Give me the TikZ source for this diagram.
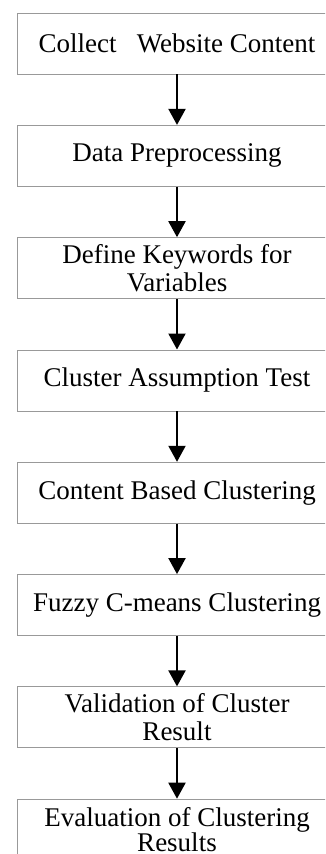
\documentclass[tikz,border=0pt]{standalone}
\usepackage{fontspec}
\setmainfont{Liberation Serif}
\usetikzlibrary{arrows.meta}
\usetikzlibrary{positioning}
\tikzset{
    stepnode/.style={rectangle,draw=gray!80,line width=0.8pt,minimum width=320pt,minimum height=61pt,inner sep=0pt,align=center,font=\fontsize{27}{28.5}\selectfont},
    steparrow/.style={-{Triangle[length=16pt,width=17pt]}, line width=2pt}
}
\begin{document}
\begin{tikzpicture}[x=1pt,y=1pt,node distance=112.3pt,on grid]
    \useasboundingbox (0,0) rectangle (325,-854);
    \clip (0,0) rectangle (325,-854);
    \node[stepnode] (11) at (177,-43.5) {Collect\ \ \ Website Content};
    \node[stepnode] (21) [below =of 11] {Data Preprocessing};
    \node[stepnode] (31) [below =of 21] {Define Keywords for\\Variables};
    \node[stepnode] (41) [below =of 31] {Cluster Assumption Test};
    \node[stepnode] (51) [below =of 41] {Content Based Clustering};
    \node[stepnode] (61) [below =of 51] {Fuzzy C-means Clustering};
    \node[stepnode] (71) [below =of 61] {Validation of Cluster\\Result};
    \node[stepnode,font=\fontsize{27}{24}\selectfont] (81) [below =of 71] {Evaluation of Clustering\\Results};
    \path (11) edge [steparrow] (21)
          (21) edge [steparrow] (31)
          (31) edge [steparrow] (41)
          (41) edge [steparrow] (51)
          (51) edge [steparrow] (61)
          (61) edge [steparrow] (71)
          (71) edge [steparrow] (81);
\end{tikzpicture}
\end{document}
